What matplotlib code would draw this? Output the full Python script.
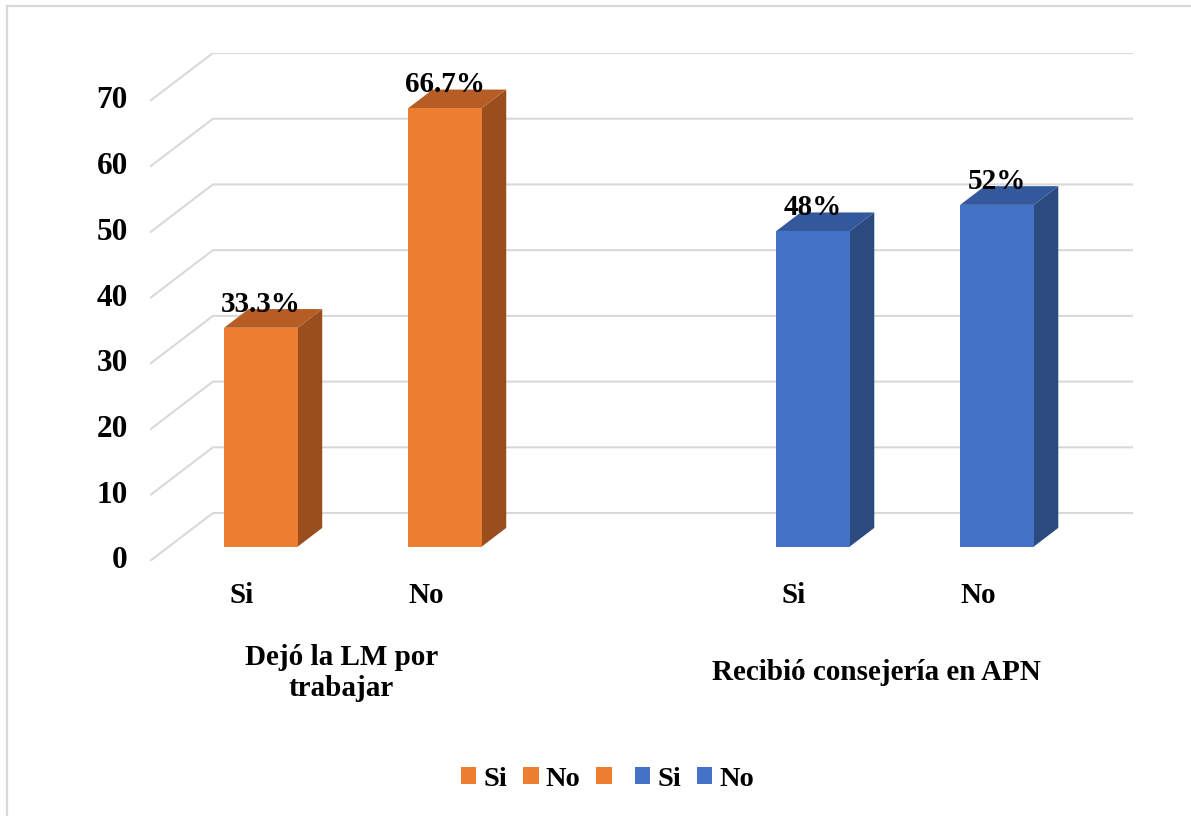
import matplotlib
matplotlib.use("Agg")
import matplotlib.pyplot as plt
from matplotlib.patches import Polygon, Patch
from matplotlib.lines import Line2D

# ---- data ----
slot_labels = ["Si", "No", "", "Si", "No"]
values = [33.3, 66.7, None, 48, 52]
value_labels = ["33.3%", "66.7%", None, "48%", "52%"]
group_labels = ["Dejó la LM por\ntrabajar", "Recibió consejería en APN"]
group_pos = [1.04, 3.95]
yticks = [0, 10, 20, 30, 40, 50, 60, 70]
legend_labels = ["Si", "No", "", "Si", "No"]

ORANGE = ("#ED7D31", "#B55D24", "#9A4E1E")
BLUE = ("#4472C4", "#33589B", "#2B4A80")
bar_colors = [ORANGE, ORANGE, ORANGE, BLUE, BLUE]

FONT = dict(family="Liberation Serif", weight="bold", size=21)
TICKFONT = dict(family="Liberation Serif", weight="bold", size=22.5)
LEGFONT = dict(family="Liberation Serif", weight="bold", size=20.5)

W, H, DPI = 1191, 816, 100
fig = plt.figure(figsize=(W / DPI, H / DPI), dpi=DPI)

# pseudo-3D geometry (slot units on x, value units on y)
DX, DY = 0.342, 7.3          # depth of the floor
F0, F1 = 0.30, 0.69          # depth span of each bar
BW = 0.40                    # bar width in slots
n = len(slot_labels)

left_px, right_px, bot_px, top_px = 150, 1133, 561, 53
ax = fig.add_axes([left_px / W, 1 - bot_px / H,
                   (right_px - left_px) / W, (bot_px - top_px) / H])
ax.set_xlim(0, n + DX)
ax.set_ylim(0, yticks[-1] + DY)
ax.axis("off")

# gridlines: slanted side wall segment + back wall segment
for t in yticks:
    ax.plot([0, DX, n + DX], [t, t + DY, t + DY], color="#d9d9d9",
            lw=1.5, solid_capstyle="butt", zorder=1)
    ax.text(-0.12, t, str(t), ha="right", va="center", **TICKFONT)

ddx, ddy = (F1 - F0) * DX, (F1 - F0) * DY
for i, v in enumerate(values):
    if v is None:
        continue
    front, top, side = bar_colors[i]
    x0 = i + 0.5 - BW / 2 + F0 * DX
    x1 = x0 + BW
    y0 = F0 * DY
    y1 = v + F0 * DY
    ax.add_patch(Polygon([(x1, y0), (x1 + ddx, y0 + ddy), (x1 + ddx, y1 + ddy), (x1, y1)],
                         closed=True, facecolor=side, edgecolor="none", zorder=3))
    ax.add_patch(Polygon([(x0, y1), (x1, y1), (x1 + ddx, y1 + ddy), (x0 + ddx, y1 + ddy)],
                         closed=True, facecolor=top, edgecolor="none", zorder=3))
    ax.add_patch(Polygon([(x0, y0), (x1, y0), (x1, y1), (x0, y1)],
                         closed=True, facecolor=front, edgecolor="none", zorder=4))
    ax.text(x0 + BW / 2, y1 + ddy - 0.4, value_labels[i], ha="center",
            va="baseline", zorder=5, **FONT)

# category labels
for i, lab in enumerate(slot_labels):
    if lab:
        ax.text(i + 0.5, -5.2, lab, ha="center", va="center", clip_on=False, **FONT)
for x, lab in zip(group_pos, group_labels):
    ax.text(x, -17.0, lab, ha="center", va="center", clip_on=False,
            linespacing=1.2, **FONT)

# legend
handles = [Patch(facecolor=c[0], edgecolor="none") for c in bar_colors]
fig.legend(handles, legend_labels, loc="center", bbox_to_anchor=(607.5 / W, 1 - 779 / H),
           ncol=5, frameon=False, handlelength=0.55, handleheight=0.55,
           handletextpad=0.25, columnspacing=0.55, prop=LEGFONT)

# chart area border (left and top edges)
fig.add_artist(Line2D([7 / W, 7 / W], [0, 1 - 6 / H], transform=fig.transFigure,
                      color="#d9d9d9", lw=1.6))
fig.add_artist(Line2D([7 / W, 1], [1 - 6 / H, 1 - 6 / H], transform=fig.transFigure,
                      color="#d9d9d9", lw=1.6))

fig.savefig("out.png", dpi=DPI, facecolor="white")
